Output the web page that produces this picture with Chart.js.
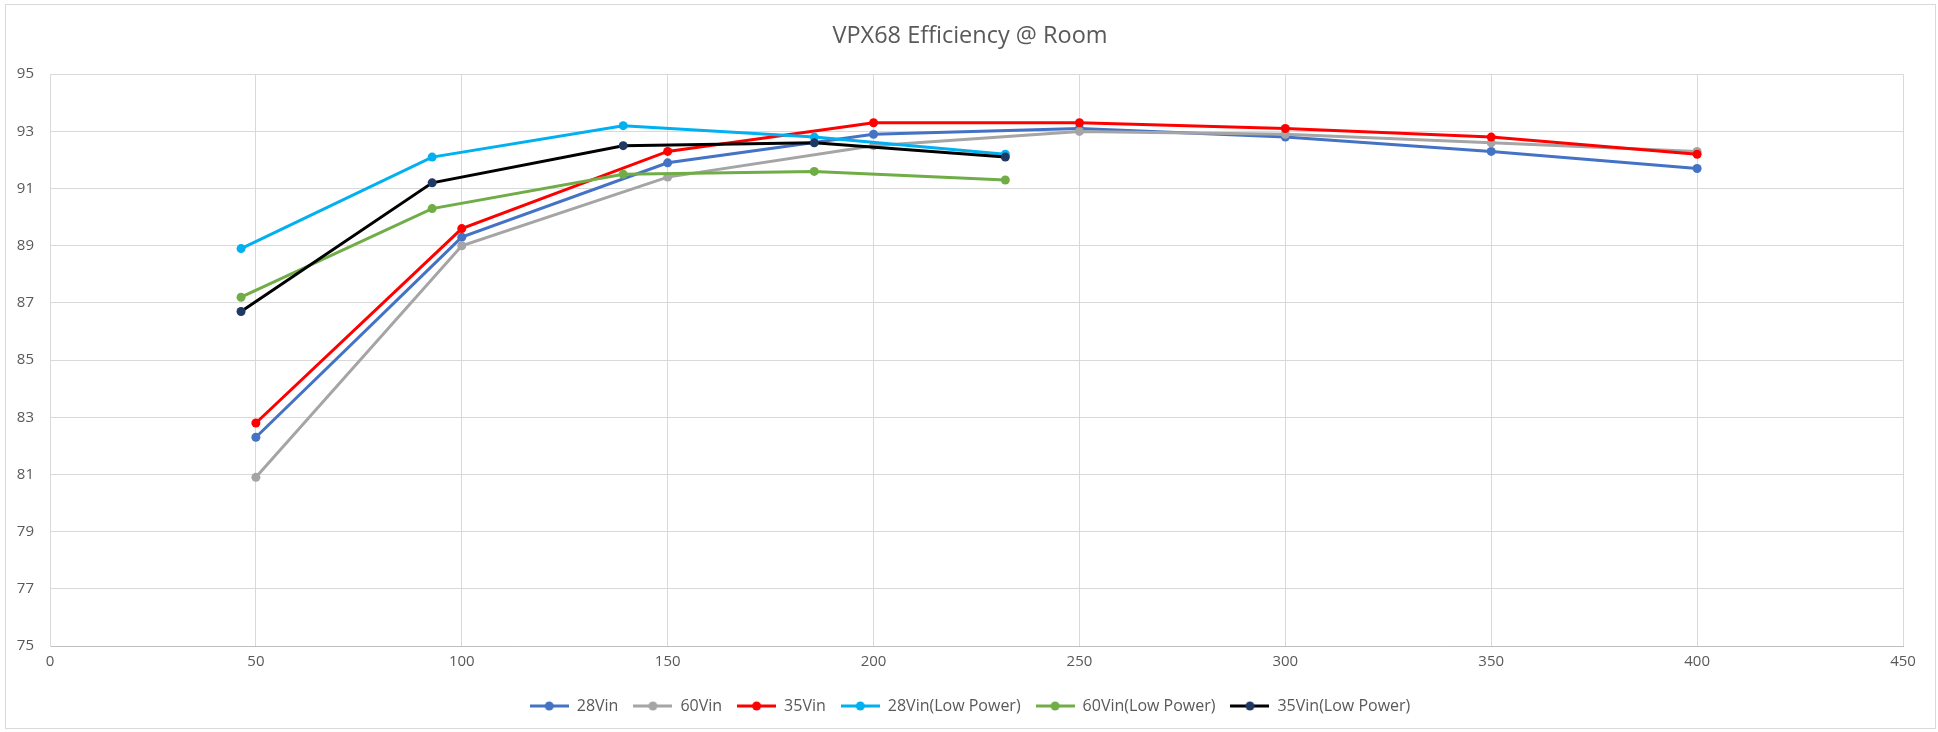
<!DOCTYPE html>
<html>
<head>
<meta charset="utf-8">
<title>VPX68 Efficiency @ Room</title>
<script src="https://cdn.jsdelivr.net/npm/chart.js@4.4.1/dist/chart.umd.min.js"></script>
<style>
  html, body { margin: 0; padding: 0; background: #ffffff; }
  #wrap { width: 1938px; height: 732px; }
</style>
</head>
<body>
<div id="wrap"><canvas id="line-chart" width="1938" height="732"></canvas></div>
<script>
// ------------------------------------------------------
// @Data
// ------------------------------------------------------

// output power for the normal runs and the low power runs
var loadHigh = [50, 100, 150, 200, 250, 300, 350, 400];
var loadLow  = [46.4, 92.8, 139.2, 185.6, 232];

// efficiency in %
var eff28Vin = [82.3, 89.3, 91.9, 92.9, 93.1, 92.8, 92.3, 91.7];
var eff60Vin = [80.9, 89.0, 91.4, 92.5, 93.0, 92.9, 92.6, 92.3];
var eff35Vin = [82.8, 89.6, 92.3, 93.3, 93.3, 93.1, 92.8, 92.2];
var eff28VinLow = [88.9, 92.1, 93.2, 92.8, 92.2];
var eff60VinLow = [87.2, 90.3, 91.5, 91.6, 91.3];
var eff35VinLow = [86.7, 91.2, 92.5, 92.6, 92.1];

var seriesNames = ['28Vin', '60Vin', '35Vin', '28Vin(Low Power)', '60Vin(Low Power)', '35Vin(Low Power)'];

// axis ticks
var yMin = 75, yMax = 95, yStep = 2;
var xMin = 0, xMax = 450, xStep = 50;

var TEXT = '#595959';
var GRID = '#D9D9D9';
var FONT = "'Open Sans', 'Liberation Sans', sans-serif";

function pairs(xs, ys) {
  return xs.map(function (x, i) { return { x: x, y: ys[i] }; });
}

// little "line with a dot" icon for the legend, like excel draws it
function legendIcon(lineColor, dotColor) {
  var c = document.createElement('canvas');
  c.width = 39;
  c.height = 12;
  var g = c.getContext('2d');
  g.strokeStyle = lineColor;
  g.lineWidth = 3;
  g.beginPath();
  g.moveTo(0, 6);
  g.lineTo(39, 6);
  g.stroke();
  g.fillStyle = dotColor;
  g.beginPath();
  g.arc(19.5, 6, 4.5, 0, Math.PI * 2);
  g.fill();
  return c;
}

var styles = [
  { line: '#4472C4', dot: '#4472C4' },
  { line: '#A5A5A5', dot: '#A5A5A5' },
  { line: '#FF0000', dot: '#FF0000' },
  { line: '#00B0F0', dot: '#00B0F0' },
  { line: '#70AD47', dot: '#70AD47' },
  { line: '#000000', dot: '#203864' },
];

var seriesData = [
  pairs(loadHigh, eff28Vin),
  pairs(loadHigh, eff60Vin),
  pairs(loadHigh, eff35Vin),
  pairs(loadLow, eff28VinLow),
  pairs(loadLow, eff60VinLow),
  pairs(loadLow, eff35VinLow),
];

var datasets = seriesData.map(function (d, i) {
  return {
    label                : seriesNames[i],
    data                 : d,
    yAxisID              : 'y',
    borderColor          : styles[i].line,
    backgroundColor      : styles[i].dot,
    pointBackgroundColor : styles[i].dot,
    pointBorderColor     : styles[i].dot,
    pointBorderWidth     : 0,
    pointRadius          : 4.5,
    borderWidth          : 3,
    tension              : 0,
    fill                 : false,
    order                : seriesNames.length - i, // later series on top, like excel
  };
});

// white page + the thin frame around the whole chart
var framePlugin = {
  id: 'frame',
  beforeDraw: function (chart) {
    var ctx = chart.ctx;
    ctx.save();
    ctx.fillStyle = '#ffffff';
    ctx.fillRect(0, 0, chart.width, chart.height);
    ctx.strokeStyle = GRID;
    ctx.lineWidth = 1;
    ctx.strokeRect(5.5, 4.5, 1930, 724);
    ctx.restore();
  },
};

// ------------------------------------------------------
// @Line Chart
// ------------------------------------------------------
var lineChartBox = document.getElementById('line-chart');

if (lineChartBox) {
  var lineCtx = lineChartBox.getContext('2d');

  var chart = new Chart(lineCtx, {
    type: 'line',
    data: { datasets: datasets },
    plugins: [framePlugin],
    options: {
      responsive: false,
      animation: false,
      events: [],
      // equal-ish side padding so title/legend sit centred like the original
      layout: {
        padding: { left: 13, right: 11, top: 0, bottom: 8 },
      },
      plugins: {
        title: {
          display: true,
          text: 'VPX68 Efficiency @ Room',
          color: TEXT,
          font: { family: FONT, size: 23.5, weight: 'normal', lineHeight: 1.2 },
          padding: { top: 22, bottom: 24 },
        },
        legend: {
          display: true,
          position: 'bottom',
          labels: {
            color: TEXT,
            font: { family: FONT, size: 16 },
            usePointStyle: true,
            pointStyleWidth: 39,
            padding: 15,
            generateLabels: function (c) {
              return c.data.datasets.map(function (ds, i) {
                return {
                  text: ds.label,
                  fontColor: TEXT,
                  pointStyle: legendIcon(styles[i].line, styles[i].dot),
                  lineWidth: 0,
                  strokeStyle: 'rgba(0,0,0,0)',
                  fillStyle: 'rgba(0,0,0,0)',
                  hidden: false,
                  datasetIndex: i,
                };
              });
            },
          },
        },
        tooltip: { enabled: false },
      },
      scales: {
        x: {
          type: 'linear',
          min: xMin,
          max: xMax,
          ticks: {
            stepSize: xStep,
            color: TEXT,
            font: { family: FONT, size: 15 },
            padding: 7,
            maxRotation: 0,
          },
          grid: { color: GRID, lineWidth: 1, drawTicks: false },
          border: { color: '#BFBFBF', width: 1 },
          afterFit: function (scale) { scale.height = 37; },
        },
        y: {
          min: yMin,
          max: yMax,
          ticks: {
            stepSize: yStep,
            color: TEXT,
            font: { family: FONT, size: 15 },
            padding: 16,
          },
          grid: { color: GRID, lineWidth: 1, drawTicks: false },
          border: { color: GRID, width: 1 },
          afterFit: function (scale) { scale.width = 37; },
        },
        // empty spacer on the right, only to keep the plot edge at 450
        yRight: {
          position: 'right',
          min: yMin,
          max: yMax,
          grid: { display: false, drawTicks: false },
          ticks: { display: false },
          border: { display: false },
          afterFit: function (scale) { scale.width = 24; },
        },
      },
    },
  });
}
</script>
</body>
</html>
